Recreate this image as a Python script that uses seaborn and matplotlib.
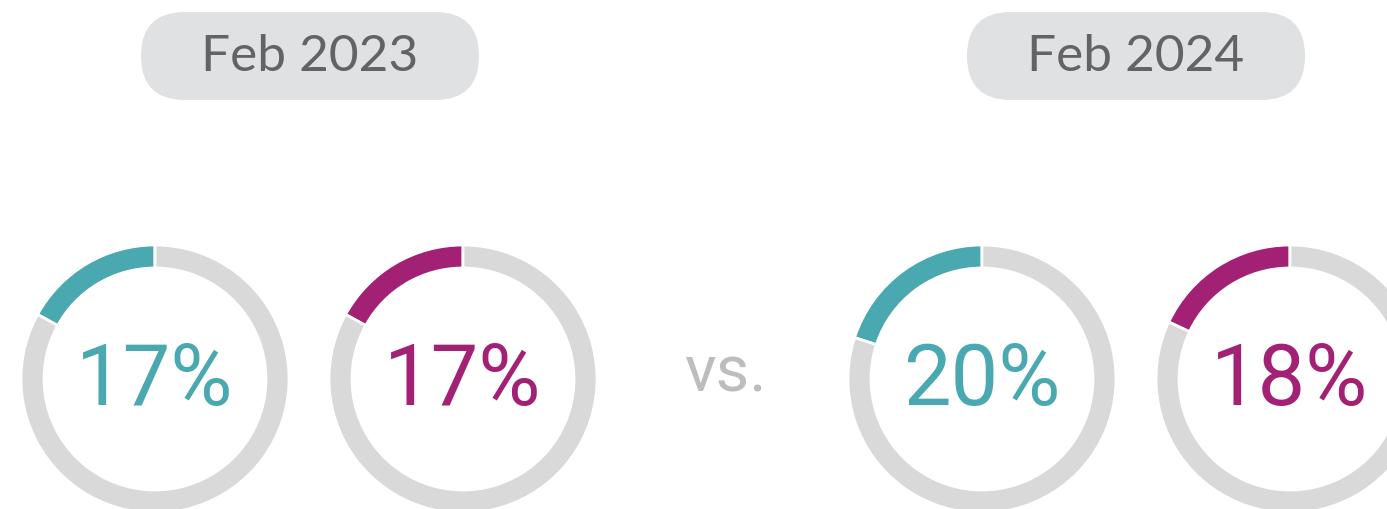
import matplotlib.pyplot as plt
import seaborn as sns
from matplotlib.patches import FancyBboxPatch

# data
periods = ['Feb 2023', 'Feb 2024']
shares_a = [17, 20]
shares_b = [17, 18]
sep_label = 'vs.'

sns.set_theme(style='white')
plt.rcParams['font.family'] = ['Lato', 'DejaVu Sans']

teal = '#4AA8B0'
magenta = '#A32174'
ring_grey = '#D9D9D9'

W, H = 1387, 509
fig = plt.figure(figsize=(W / 100, H / 100), dpi=100)
ax = fig.add_axes([0, 0, 1, 1])

# layout (pixels, y measured from top)
pill_x = [310, 1136]
donut_x = [[155, 463], [982, 1290]]
donut_y = 379
r_out = 134
ring_w = 23


def donut(cx, value, color):
    ax.pie([value, 100 - value], colors=[color, ring_grey], startangle=90,
           counterclock=True, radius=r_out, center=(cx, H - donut_y),
           wedgeprops=dict(width=ring_w, edgecolor='white', linewidth=2))
    ax.text(cx, H - donut_y - 3, f'{value}%', ha='center', va='center',
            fontsize=61, color=color, family=['Roboto', 'DejaVu Sans'])


for i, period in enumerate(periods):
    px = pill_x[i]
    pill = FancyBboxPatch((px - 169, H - 100), 338, 88,
                          boxstyle='round,pad=0,rounding_size=44',
                          facecolor='#E0E1E3', edgecolor='none')
    ax.add_patch(pill)
    ax.text(px, H - 57, period, ha='center', va='center', fontsize=37,
            color='#636363')
    donut(donut_x[i][0], shares_a[i], teal)
    donut(donut_x[i][1], shares_b[i], magenta)

ax.text(726, H - 373, sep_label, ha='center', va='center', fontsize=47,
        color='#BDBDBD', family=['Roboto', 'DejaVu Sans'])

ax.set_xlim(0, W)
ax.set_ylim(0, H)
ax.set_aspect('equal')
ax.axis('off')

fig.savefig('out.png', dpi=100)
